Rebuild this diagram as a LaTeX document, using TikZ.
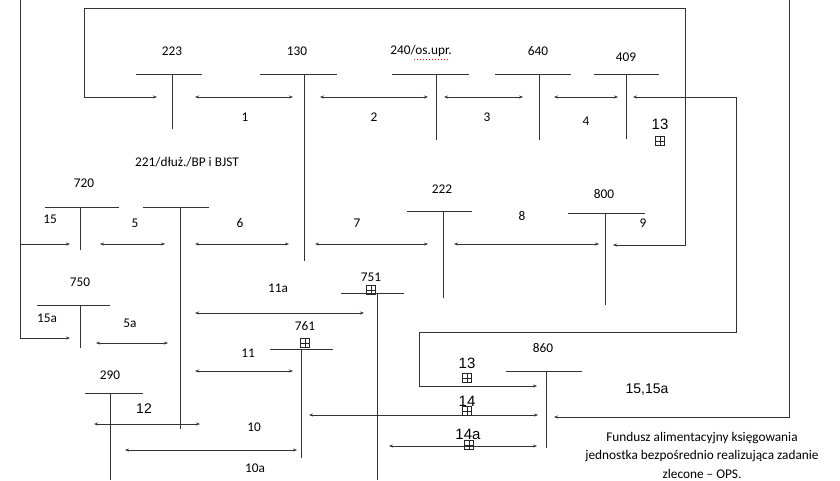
\documentclass[tikz,border=0pt]{standalone}
\usepackage{fontspec}
\setmainfont{Carlito}
\newfontfamily\arialf{Liberation Sans}
\usetikzlibrary{arrows.meta}
\tikzset{
 ln/.style={line width=0.8pt, draw=black!80},
 arr/.style={ln, -{Stealth[length=4pt,width=3pt]}},
 darr/.style={ln, {Stealth[length=4pt,width=3pt]}-{Stealth[length=4pt,width=3pt]}},
 lbl/.style={font=\fontsize{13.3}{15}\selectfont, inner sep=0pt, text=black},
 big/.style={font=\arialf\fontsize{15}{17}\selectfont, inner sep=0pt, text=black},
 bigs/.style={font=\arialf\fontsize{14}{16}\selectfont, inner sep=0pt, text=black},
 bplus/.style={draw=black!85, line width=0.7pt, minimum size=9pt, inner sep=0pt,
   path picture={\draw[line width=0.7pt, black!85] (path picture bounding box.north) -- (path picture bounding box.south)
     (path picture bounding box.west) -- (path picture bounding box.east);}},
}
\begin{document}
\begin{tikzpicture}[x=1pt,y=-1pt]
\useasboundingbox (0,0) rectangle (840,480);
\fill[white] (0,0) rectangle (840,480);

% ---------- outer frames ----------
\draw[arr] (20,0) -- (20,338) -- (70,338);
\draw[arr] (20,244) -- (70,244);
\draw[ln] (84,8) -- (685,8);
\draw[arr] (84,8) -- (84,97) -- (157,97);
\draw[arr] (685,8) -- (685,245) -- (613,245);
\draw[arr] (789,0) -- (789,417) -- (554,417);
\draw[arr] (736,97) -- (633,97);
\draw[arr] (736,97) -- (736,332) -- (419,332) -- (419,386) -- (537,386);

% ---------- T-accounts, top row ----------
\node[lbl] (l223) at (172,51) {223};
\draw[ln] (136,74) -- (202,74) (172,74) -- (172,129);
\node[lbl] (l130) at (297,51) {130};
\draw[ln] (260,74) -- (337,74) (304,74) -- (304,261);
\node[lbl] (l240) at (421,51) {240/os.upr.};
\draw[red, dotted, line width=1pt] (414,59) -- (450,59);
\draw[ln] (392,74) -- (469,74) (436,74) -- (436,140);
\node[lbl] (l640) at (538,51) {640};
\draw[ln] (495,74) -- (571,74) (539,74) -- (539,140);
\node[lbl] (l409) at (626,57) {409};
\draw[ln] (594,74) -- (659,74) (626,74) -- (626,139);

\draw[darr] (195,97) -- (293,97);
\draw[darr] (320,97) -- (428,97);
\draw[darr] (444,97) -- (523,97);
\draw[darr] (554,97) -- (618,97);
\node[lbl] (n1) at (245,117) {1};
\node[lbl] (n2) at (374,117) {2};
\node[lbl] (n3) at (487,117) {3};
\node[lbl] (n4) at (586,121) {4};
\node[big] (n13a) at (660,124) {13};
\node[bplus] (p13a) at (660,141) {};

% ---------- middle row ----------
\node[lbl] (l221) at (187,162) {221/dłuż./BP i BJST};
\node[lbl] (l720) at (84,183) {720};
\draw[ln] (45,207) -- (119,207) (80,207) -- (80,250);
\draw[ln] (143,207) -- (209,207) (180,207) -- (180,429);
\node[lbl] (n15) at (50,219) {15};
\node[lbl] (n5) at (135,223) {5};
\node[lbl] (n6) at (240,223) {6};
\node[lbl] (n7) at (357,223) {7};
\draw[darr] (100,244) -- (165,244);
\draw[darr] (195,244) -- (289,244);
\draw[darr] (315,244) -- (428,244);
\node[lbl] (l222) at (442,189) {222};
\draw[ln] (407,211) -- (472,211) (443,211) -- (443,298);
\node[lbl] (n8) at (522,216) {8};
\draw[darr] (454,244) -- (599,244);
\node[lbl] (l800) at (604,194) {800};
\draw[ln] (568,213) -- (645,213) (605,213) -- (605,305);
\node[lbl] (n9) at (643,223) {9};

% ---------- lower part ----------
\node[lbl] (l750) at (80,282) {750};
\draw[ln] (37,305) -- (110,305) (80,305) -- (80,348);
\node[lbl] (n15a) at (47,318) {15a};
\node[lbl] (n5a) at (130,323) {5a};
\draw[darr] (96,343) -- (168,343);

\node[lbl] (l751) at (371,277) {751};
\node[bplus] (p751) at (371,290) {};
\draw[ln] (341,293) -- (404,293) (377,293) -- (377,480);
\node[lbl] (n11a) at (278,288) {11a};
\draw[darr] (195,313) -- (364,313);

\node[lbl] (l761) at (305,326) {761};
\node[bplus] (p761) at (305,343) {};
\draw[ln] (270,349) -- (333,349) (301,349) -- (301,458);
\node[lbl] (n11) at (248,353) {11};
\draw[darr] (195,371) -- (293,371);

\node[lbl] (l290) at (110,375) {290};
\draw[ln] (85,393) -- (143,393) (110,393) -- (110,480);
\node[bigs] (n12) at (144,409) {12};
\draw[darr] (94,424) -- (200,424);
\node[lbl] (n10) at (254,427) {10};
\draw[darr] (125,450) -- (297,450);
\node[lbl] (n10a) at (255,468) {10a};

\node[lbl] (l860) at (543,348) {860};
\draw[ln] (506,371) -- (582,371) (546,371) -- (546,448);
\node[big] (n13b) at (467,363) {13};
\node[bplus] (p13b) at (467,378) {};
\draw[darr] (309,415) -- (538,415);
\node[big] (n14) at (467,401) {14};
\node[bplus] (p14) at (467,411) {};
\draw[darr] (389,446) -- (537,446);
\node[big] (n14a) at (468,434) {14a};
\node[bplus] (p14a) at (469,445) {};
\node[bigs] (n1515a) at (647,390) {15,15a};

\node[font=\fontsize{13.3}{18.5}\selectfont, align=center, inner sep=0pt, text=black] (fa) at (702,455)
 {Fundusz alimentacyjny księgowania\\ jednostka bezpośrednio realizująca zadanie\\ zlecone -- OPS.};
\end{tikzpicture}
\end{document}
